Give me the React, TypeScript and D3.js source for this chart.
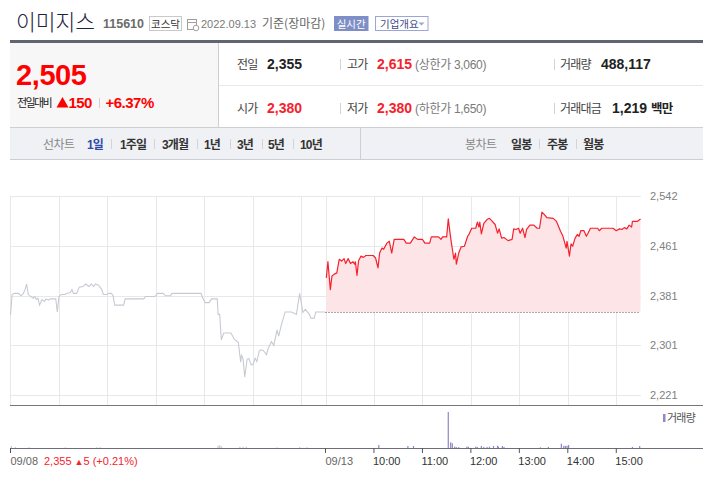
import React from "react";
import * as d3 from "d3";

// ---- data ----
const PREV_CLOSE = 2355;
const yTicks = [2221, 2301, 2381, 2461, 2542];
const hourLabels = ["10:00", "11:00", "12:00", "13:00", "14:00", "15:00"];

// [minutes after 09:00, price]
const prevDay: [number, number][] = [
  [0, 2350], [2, 2383], [5, 2385], [10, 2385], [13, 2381], [16, 2385], [18, 2391], [20, 2400],
  [22, 2383], [25, 2380], [28, 2377], [30, 2380], [32, 2375], [34, 2377], [36, 2366], [39, 2375],
  [42, 2372], [44, 2376], [47, 2374], [49, 2376], [56, 2376], [58, 2355], [60, 2380], [63, 2383],
  [67, 2383], [70, 2385], [74, 2386], [76, 2391], [78, 2385], [82, 2385], [85, 2395], [90, 2396],
  [93, 2400], [97, 2396], [100, 2400], [103, 2396], [105, 2400], [109, 2398], [113, 2391], [115, 2383],
  [119, 2383], [122, 2385], [125, 2385], [127, 2381], [129, 2366], [140, 2366], [142, 2376], [165, 2376],
  [167, 2380], [179, 2380], [182, 2385], [189, 2385], [192, 2381], [198, 2381], [200, 2385], [236, 2385],
  [238, 2377], [241, 2370], [246, 2370], [249, 2376], [256, 2376], [257, 2351], [259, 2351], [261, 2310],
  [264, 2321], [273, 2321], [277, 2311], [282, 2306], [285, 2274], [286, 2286], [288, 2278], [290, 2250],
  [293, 2279], [295, 2280], [298, 2270], [300, 2270], [303, 2280], [305, 2275], [308, 2292], [310, 2294],
  [313, 2293], [317, 2286], [319, 2296], [323, 2307], [326, 2301], [330, 2326], [332, 2316], [335, 2332],
  [340, 2355], [348, 2355], [354, 2351], [358, 2385], [362, 2354], [365, 2359], [370, 2351], [372, 2345],
  [376, 2345], [378, 2355], [390, 2355],
];

const today: [number, number][] = [
  [1, 2410], [3, 2436], [6, 2391], [8, 2413], [11, 2416], [14, 2418], [17, 2440], [20, 2437],
  [23, 2441], [25, 2433], [28, 2441], [31, 2433], [34, 2436], [36, 2432], [37, 2436], [39, 2414],
  [41, 2438], [44, 2445], [47, 2443], [50, 2446], [59, 2446], [62, 2442], [65, 2426], [67, 2450],
  [70, 2458], [72, 2456], [76, 2466], [79, 2469], [82, 2450], [85, 2472], [97, 2472], [100, 2466],
  [105, 2466], [110, 2476], [114, 2472], [120, 2472], [123, 2466], [129, 2466], [131, 2476], [140, 2476],
  [143, 2472], [145, 2476], [150, 2476], [152, 2505], [155, 2474], [158, 2448], [159, 2440], [161, 2450],
  [162, 2432], [165, 2450], [168, 2460], [172, 2461], [176, 2477], [178, 2481], [181, 2490], [186, 2490],
  [188, 2500], [190, 2492], [191, 2500], [193, 2481], [196, 2498], [200, 2504], [203, 2506], [206, 2502],
  [210, 2496], [213, 2482], [215, 2489], [218, 2474], [221, 2475], [224, 2472], [226, 2470], [231, 2472],
  [233, 2489], [236, 2488], [239, 2490], [241, 2482], [244, 2490], [247, 2475], [249, 2488], [253, 2495],
  [258, 2495], [262, 2490], [265, 2490], [268, 2516], [271, 2512], [274, 2507], [282, 2506], [286, 2501],
  [291, 2485], [294, 2477], [298, 2458], [299, 2469], [302, 2445], [304, 2465], [306, 2461], [309, 2474],
  [312, 2480], [314, 2477], [316, 2486], [320, 2486], [323, 2477], [325, 2482], [328, 2490], [337, 2490],
  [339, 2486], [342, 2490], [356, 2490], [360, 2486], [364, 2489], [367, 2488], [370, 2491], [373, 2489],
  [376, 2495], [379, 2492], [380, 2501], [386, 2501], [390, 2505],
];

// [minutes after 09:00, shares]
const prevVolume: [number, number][] = [
  [1, 4500], [6, 2000], [23, 2000], [68, 1500], [107, 2000], [111, 2000], [257, 5000], [259, 6000],
  [261, 4000], [284, 3000], [288, 2500], [292, 3000], [330, 1500], [358, 2500], [367, 2000],
];
const todayVolume: [number, number][] = [
  [66, 6700], [102, 4500], [109, 4500], [152, 81000], [155, 12800], [157, 10600], [160, 3000], [162, 2000],
  [165, 2000], [175, 3000], [177, 3000], [186, 3000], [188, 2500], [193, 4500], [196, 2500], [200, 2500],
  [203, 3000], [208, 4500], [213, 5200], [214, 3000], [219, 4500], [221, 2500], [266, 1500], [276, 2500],
  [292, 9700], [295, 5000], [297, 4500], [299, 5200], [301, 6700], [380, 2500], [389, 4500],
];

const periodTabs = ["1일", "1주일", "3개월", "1년", "3년", "5년", "10년"];
const candleTabs = ["일봉", "주봉", "월봉"];

const RED = "#f5222d";
const KR = "'Noto Sans CJK KR', sans-serif";
const NUM = "'Liberation Sans', 'Noto Sans CJK KR', sans-serif";

const W = 703;
const H = 479;

export default function App() {
  const x = d3.scaleLinear().domain([0, 780]).range([10.5, 640.5]);
  const y = d3.scaleLinear().domain([2221, 2542]).range([395, 196]);
  const yVol = d3.scaleLinear().domain([0, 90000]).range([448, 408]);

  const prevLine = d3.line<[number, number]>().x((d) => x(d[0])).y((d) => y(d[1]))(prevDay) || "";
  const todayLine = d3.line<[number, number]>().x((d) => x(390 + d[0])).y((d) => y(d[1]))(today) || "";
  const todayArea =
    d3.area<[number, number]>().x((d) => x(390 + d[0])).y0(y(PREV_CLOSE)).y1((d) => y(d[1]))(today) || "";

  // hour gridlines for both sessions plus the day boundary
  const vLines = [...d3.range(60, 390, 60), 390, ...d3.range(450, 780, 60)];

  const periodX = [87, 120, 162, 204, 237, 268, 300];
  const periodSep = [111, 154, 197, 230, 262, 293];
  const candleX = [511, 547, 583];
  const candleSep = [539, 576];

  return (
    <svg width={W} height={H} style={{ position: "absolute", left: 0, top: 0, background: "#fff" }}>
      {/* ---- title row ---- */}
      <text x={16} y={30} fontFamily={KR} fontSize={21.5} fontWeight={300} fill="#1e2040">이미지스</text>
      <text x={103} y={28} fontFamily={NUM} fontSize={12.5} fontWeight={700} fill="#6b6b6b">115610</text>
      <rect x={149.5} y={16.5} width={32} height={14} fill="#fff" stroke="#c9c9c9" />
      <text x={165.5} y={27.5} textAnchor="middle" fontFamily={KR} fontSize={10.5} fill="#333">코스닥</text>
      <g stroke="#a0a0a0" fill="none">
        <rect x={187.5} y={19.5} width={9} height={10} />
        <line x1={187.5} y1={22.5} x2={196.5} y2={22.5} />
        <circle cx={196} cy={28} r={2.8} fill="#fff" />
      </g>
      <text x={201} y={28} fontFamily={NUM} fontSize={11} fill="#7a7a7a">2022.09.13</text>
      <text x={262} y={28} fontFamily={KR} fontSize={12} fill="#666">기준(장마감)</text>
      <rect x={334} y={16} width={34.5} height={15} fill="#7d8fc6" />
      <text x={351.2} y={27.5} textAnchor="middle" fontFamily={KR} fontSize={10.5} fill="#fff">실시간</text>
      <rect x={375.5} y={16.5} width={52.5} height={14} fill="#fff" stroke="#9aa7d2" />
      <text x={380} y={27.5} fontFamily={KR} fontSize={10.5} fill="#3f4c8a">기업개요</text>
      <path d="M418.5,22.5 L424.5,22.5 L421.5,25.5 Z" fill="#9aa7d2" />

      {/* ---- summary box ---- */}
      <rect x={10} y={40} width={693} height={3} fill="#5f6670" />
      <rect x={10} y={43} width={208} height={85} fill="#f7f7f7" />
      <line x1={218.5} y1={43} x2={218.5} y2={128} stroke="#cfcfcf" />
      <line x1={219} y1={85.5} x2={703} y2={85.5} stroke="#e9e9e9" />
      <line x1={10} y1={127.5} x2={703} y2={127.5} stroke="#cfcfcf" />

      <text x={16} y={85} fontFamily={NUM} fontSize={29} fontWeight={700} fill="#f00" letterSpacing={-0.4}>2,505</text>
      <text x={17} y={107} fontFamily={KR} fontSize={11} fill="#222" letterSpacing={-1.6}>전일대비</text>
      <path d="M56.5,107.5 L62.5,97 L68.5,107.5 Z" fill="#f00" />
      <text x={68.5} y={108} fontFamily={NUM} fontSize={15} fontWeight={700} fill="#f00" letterSpacing={-0.6}>150</text>
      <line x1={99.5} y1={98} x2={99.5} y2={108} stroke="#d0d0d0" />
      <text x={105.5} y={108} fontFamily={NUM} fontSize={15} fontWeight={700} fill="#f00" letterSpacing={-0.5}>+6.37%</text>

      {/* rows */}
      <g fontFamily={KR} fontSize={12} fill="#444" letterSpacing={-0.8}>
        <text x={237} y={69}>전일</text>
        <text x={347} y={69}>고가</text>
        <text x={560} y={69}>거래량</text>
        <text x={237} y={113}>시가</text>
        <text x={347} y={113}>저가</text>
        <text x={560} y={113}>거래대금</text>
      </g>
      <g fontFamily={NUM} fontSize={14} fontWeight={700}>
        <text x={267} y={69} fill="#222">2,355</text>
        <text x={377} y={69} fill={RED}>2,615</text>
        <text x={601} y={69} fill="#222">488,117</text>
        <text x={267} y={113} fill={RED}>2,380</text>
        <text x={377} y={113} fill={RED}>2,380</text>
        <text x={612} y={113} fill="#222">1,219 <tspan fontFamily={KR} fontSize={12.5} letterSpacing={-0.8}>백만</tspan></text>
      </g>
      <g fontFamily={NUM} fontSize={12} fill="#7a7a7a" letterSpacing={-0.3}>
        <text x={415} y={69}>(상한가 3,060)</text>
        <text x={415} y={113}>(하한가 1,650)</text>
      </g>
      <g stroke="#d3d3d3">
        <line x1={340.5} y1={59} x2={340.5} y2={70} />
        <line x1={554.5} y1={59} x2={554.5} y2={70} />
        <line x1={340.5} y1={103} x2={340.5} y2={114} />
        <line x1={554.5} y1={103} x2={554.5} y2={114} />
      </g>

      {/* ---- tab bar ---- */}
      <rect x={10} y={128} width={693} height={31} fill="#eff1f5" />
      <line x1={10} y1={159.5} x2={703} y2={159.5} stroke="#cbced6" />
      <line x1={360.5} y1={128} x2={360.5} y2={159} stroke="#cbced6" />
      <text x={43} y={149} fontFamily={KR} fontSize={12} fill="#888" letterSpacing={-0.6}>선차트</text>
      {periodTabs.map((t, i) => (
        <text key={t} x={periodX[i]} y={149} fontFamily={NUM} fontSize={12} fontWeight={700}
          fill={i === 0 ? "#2d4ba5" : "#333"} letterSpacing={-0.8}>{t}</text>
      ))}
      {periodSep.map((s) => (
        <line key={s} x1={s + 0.5} y1={139} x2={s + 0.5} y2={149} stroke="#d2d4da" />
      ))}
      <text x={465} y={149} fontFamily={KR} fontSize={12} fill="#888" letterSpacing={-0.6}>봉차트</text>
      {candleTabs.map((t, i) => (
        <text key={t} x={candleX[i]} y={149} fontFamily={KR} fontSize={12} fontWeight={700} fill="#333" letterSpacing={-0.8}>{t}</text>
      ))}
      {candleSep.map((s) => (
        <line key={s} x1={s + 0.5} y1={139} x2={s + 0.5} y2={149} stroke="#d2d4da" />
      ))}

      {/* ---- price chart grid ---- */}
      <g stroke="#e8e8e8" shapeRendering="crispEdges">
        {yTicks.map((t) => (
          <line key={t} x1={10.5} x2={640.5} y1={Math.round(y(t)) + 0.5} y2={Math.round(y(t)) + 0.5} />
        ))}
        <line x1={10.5} x2={10.5} y1={196} y2={405} />
        {vLines.map((m) => (
          <line key={m} x1={Math.round(x(m)) + 0.5} x2={Math.round(x(m)) + 0.5} y1={196} y2={405} />
        ))}
      </g>
      {yTicks.map((t) => (
        <text key={t} x={650} y={y(t) + 4} fontFamily={NUM} fontSize={11} fill="#808080">
          {d3.format(",")(t)}
        </text>
      ))}

      <path d={todayArea} fill="#fde4e6" />
      <path d={prevLine} fill="none" stroke="#c6cad2" strokeWidth={1.1} />
      <line x1={x(390)} x2={x(780)} y1={Math.round(y(PREV_CLOSE)) + 0.5} y2={Math.round(y(PREV_CLOSE)) + 0.5}
        stroke="#555" strokeDasharray="1,2" />
      <path d={todayLine} fill="none" stroke={RED} strokeWidth={1.2} strokeLinejoin="round" />

      <line x1={10} x2={703} y1={405.5} y2={405.5} stroke="#777" />

      {/* ---- volume ---- */}
      {prevVolume.map(([m, v]) => (
        <rect key={"p" + m} x={x(m) - 0.6} y={yVol(v)} width={1.2} height={448 - yVol(v)} fill="#c8c8c8" />
      ))}
      {todayVolume.map(([m, v]) => (
        <rect key={"t" + m} x={x(390 + m) - 0.6} y={yVol(v)} width={1.2} height={448 - yVol(v)} fill="#9484c8" />
      ))}
      <rect x={663} y={414} width={2.5} height={8} fill="#9484c8" />
      <text x={667} y={422} fontFamily={KR} fontSize={11} fill="#555" letterSpacing={-0.8}>거래량</text>

      {/* ---- time axis ---- */}
      <line x1={10} x2={703} y1={448.5} y2={448.5} stroke="#6e6e78" />
      <g stroke="#555">
        <line x1={x(0)} x2={x(0)} y1={448} y2={453} />
        <line x1={x(390)} x2={x(390)} y1={448} y2={453} />
        {hourLabels.map((h, i) => (
          <line key={h} x1={x(390 + 60 * (i + 1))} x2={x(390 + 60 * (i + 1))} y1={448} y2={453} />
        ))}
      </g>
      <text x={10.5} y={465} fontFamily={NUM} fontSize={11} fill="#666">09/08</text>
      <text x={44} y={465} fontFamily={NUM} fontSize={11} fill={RED}>
        2,355 <tspan fontSize={9}>▲</tspan>5 (+0.21%)
      </text>
      <text x={x(390)} y={465} fontFamily={NUM} fontSize={11} fill="#666">09/13</text>
      {hourLabels.map((h, i) => (
        <text key={h} x={x(390 + 60 * (i + 1)) - 1} y={465} fontFamily={NUM} fontSize={11} fill="#333">{h}</text>
      ))}
    </svg>
  );
}
